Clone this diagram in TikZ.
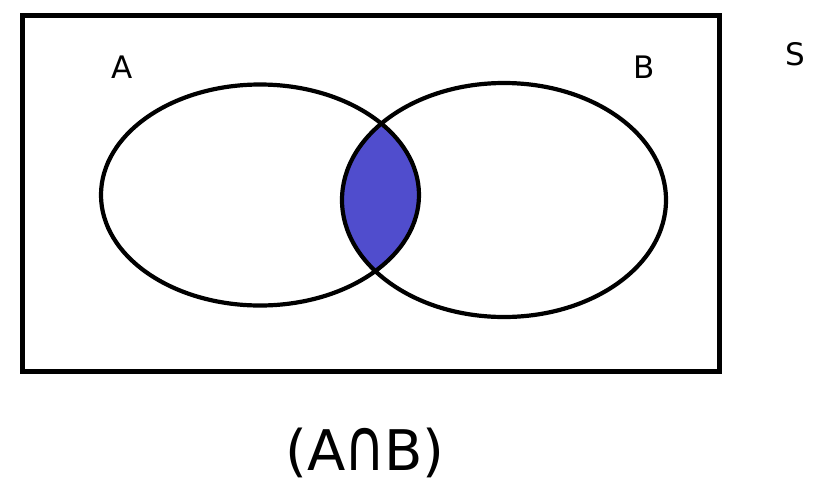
\documentclass[tikz,border=0pt]{standalone}
\usepackage{fontspec}
\usepackage{graphicx}
\setmainfont{DejaVu Sans}
\definecolor{interfill}{RGB}{80,77,205}
\begin{document}
\begin{tikzpicture}[x=1pt,y=-1pt,
  setline/.style={line width=4.2pt, draw=black},
  lbl/.style={anchor=base, inner sep=0pt, font=\fontsize{31}{36}\selectfont},
  biglbl/.style={anchor=base, inner sep=0pt, font=\fontsize{56}{64}\selectfont}]
\useasboundingbox (0,0) rectangle (817,491);
\fill[white] (0,0) rectangle (817,491);
\begin{scope}
  \clip (260,195) ellipse [x radius=159, y radius=110.5];
  \fill[interfill] (504,200) ellipse [x radius=162, y radius=117];
\end{scope}
\draw[setline] (260,195) ellipse [x radius=159, y radius=110.5];
\draw[setline] (504,200) ellipse [x radius=162, y radius=117];
\draw[line width=5pt] (22.5,15) rectangle (719.5,371.5);
\node[lbl] (la) at (122,78) {A};
\node[lbl] (lb) at (644,78) {B};
\node[lbl] (ls) at (795,65) {S};
\node[biglbl] (cap) at (365,470) {(A\kern-1pt\scalebox{1.0}[1.3]{∩}\kern-1ptB)};
\end{tikzpicture}
\end{document}
